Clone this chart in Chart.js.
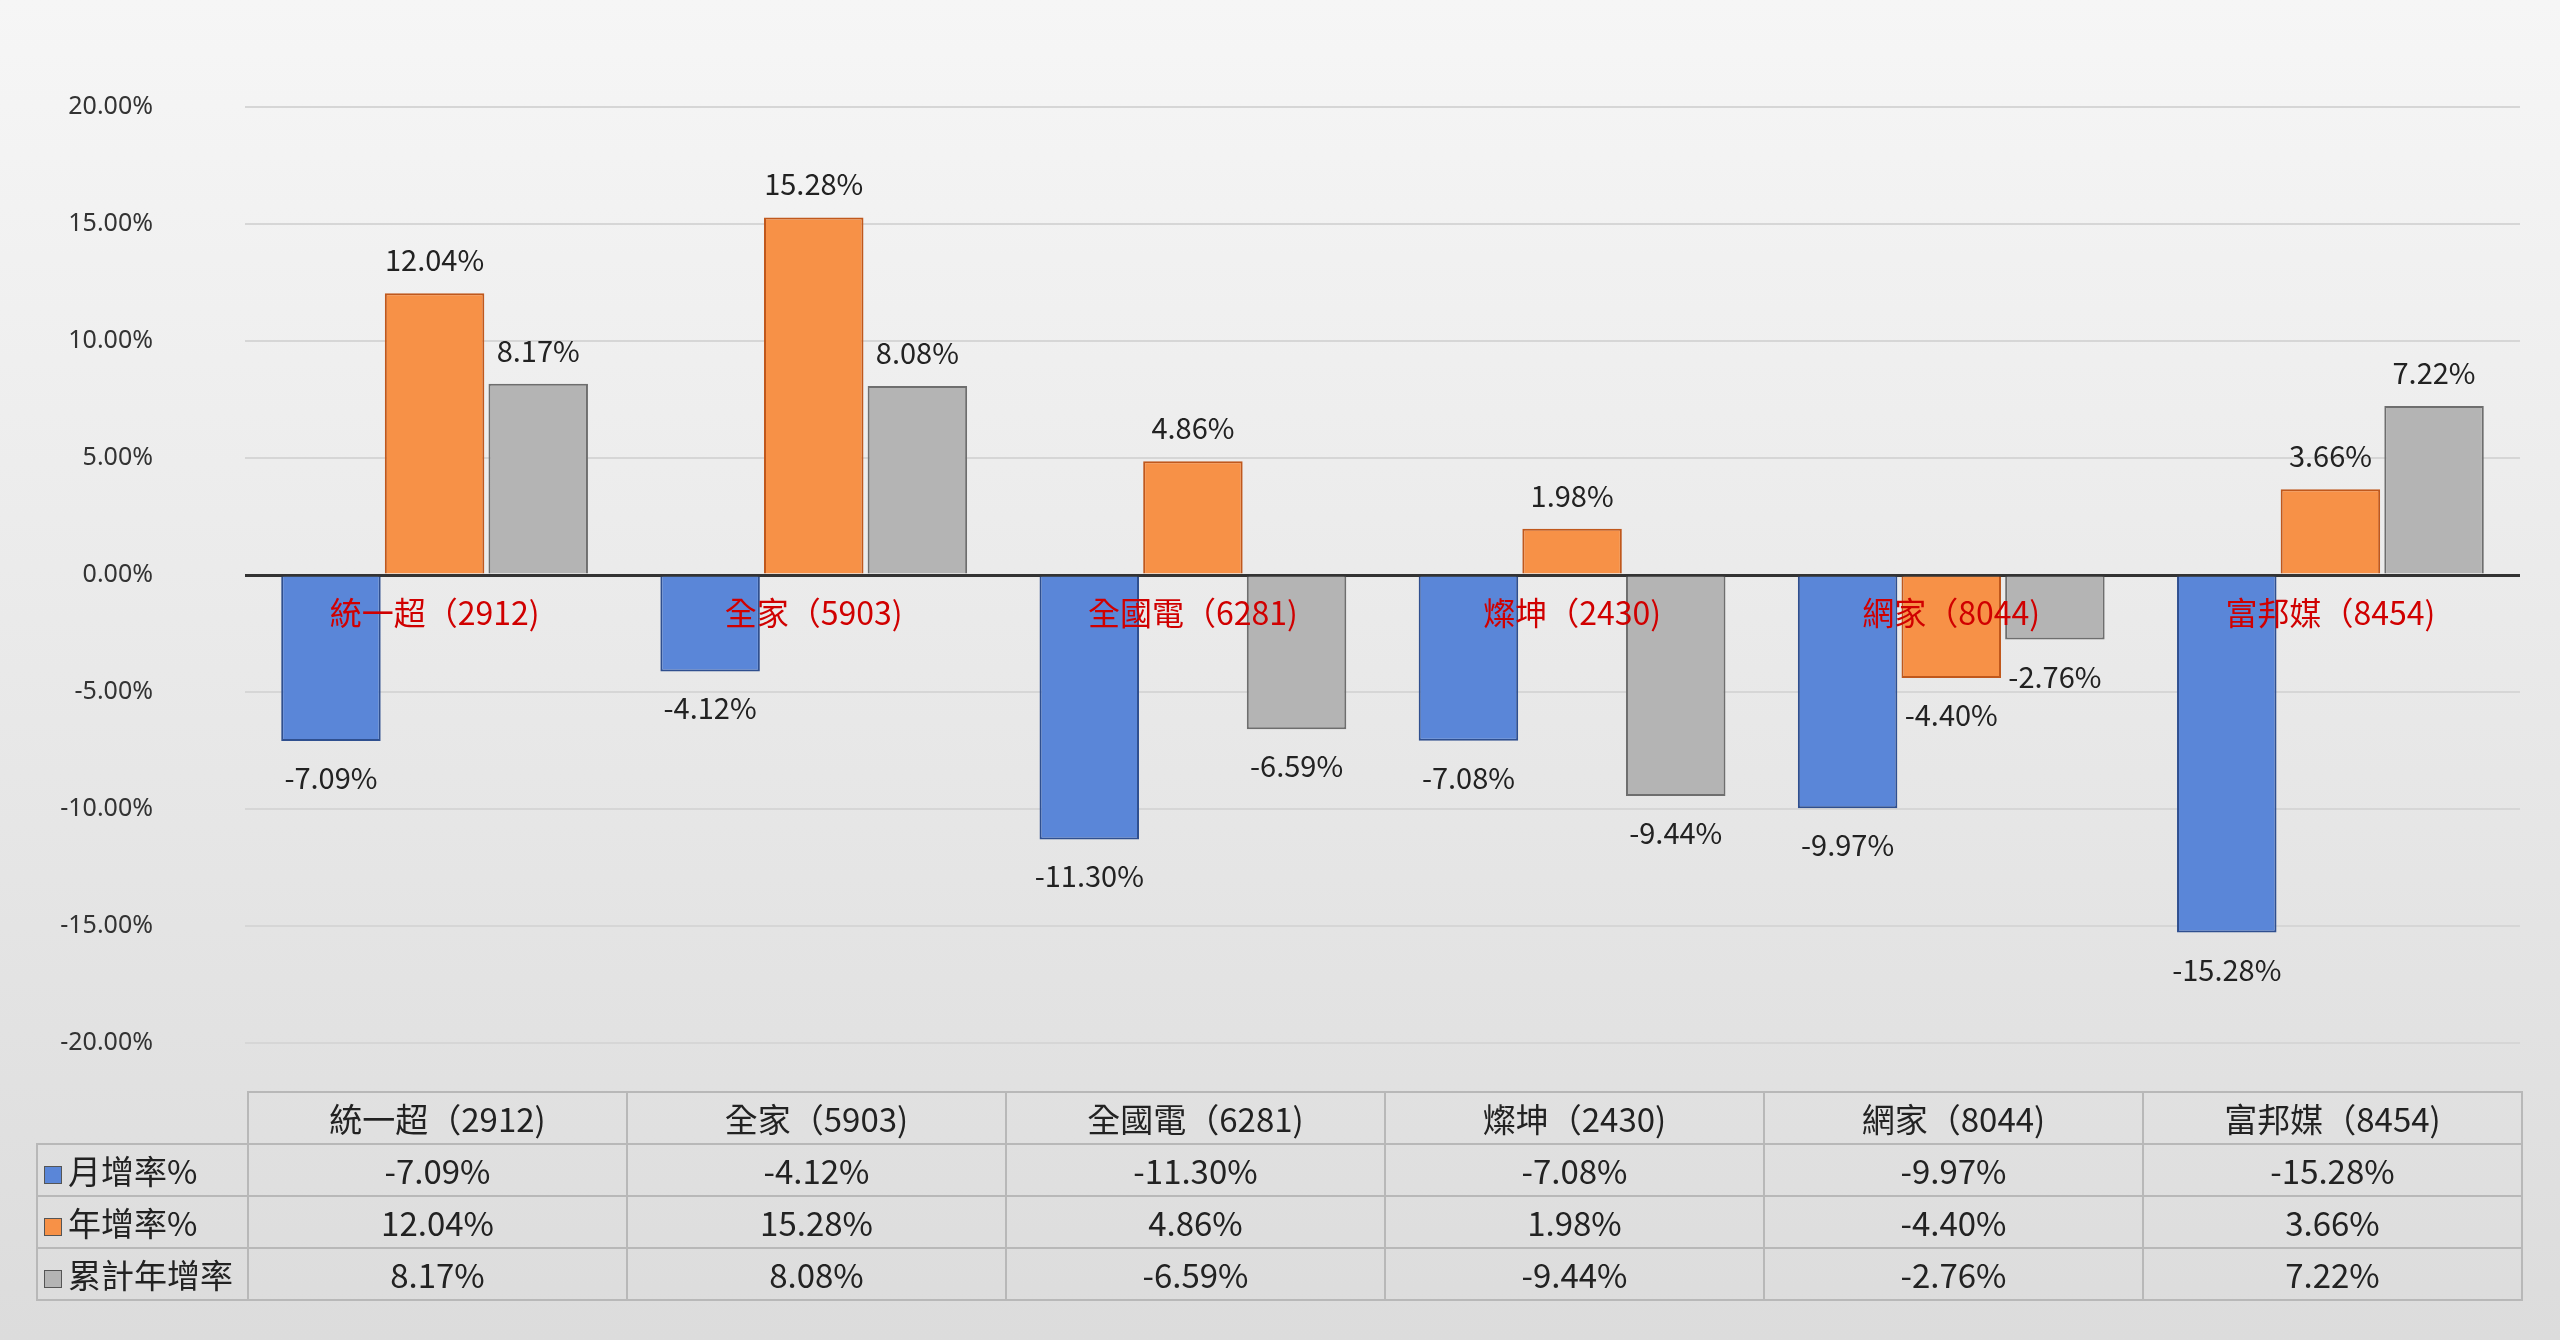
<!DOCTYPE html>
<html><head><meta charset="utf-8">
<script src="https://cdn.jsdelivr.net/npm/chart.js@4"></script>
<style>
html,body{margin:0;padding:0;width:2560px;height:1340px;overflow:hidden;background:linear-gradient(#f6f6f6,#dcdcdc);font-family:"Noto Sans CJK TC","Noto Sans",sans-serif;}
#wrap{position:absolute;left:0;top:0;width:2560px;height:1150px;}
#tbl{position:absolute;left:36px;top:1091px;border-collapse:collapse;font-size:33px;color:#222;}
#tbl td{border:2px solid #b8b8b8;height:50px;text-align:center;padding:0;}
#tbl td.h{text-align:left;padding-left:6px;width:203px;}
#tbl td.c{width:377px;}
.sq{display:inline-block;width:16px;height:16px;margin-right:6px;vertical-align:middle;border:1px solid #555;}
</style></head><body>
<div id="wrap"><canvas id="c"></canvas></div>
<table id="tbl"></table>
<script>
const categories=["統一超（2912)","全家（5903)","全國電（6281)","燦坤（2430)","網家（8044)","富邦媒（8454)"];
const tableCats=["統一超（2912)","全家（5903)","全國電（6281)","燦坤（2430)","網家（8044)","富邦媒（8454)"];
const seriesNames=["月增率%","年增率%","累計年增率"];
const monthly=[-7.09,-4.12,-11.30,-7.08,-9.97,-15.28];
const yearly=[12.04,15.28,4.86,1.98,-4.40,3.66];
const cumulative=[8.17,8.08,-6.59,-9.44,-2.76,7.22];
const colors=["#5a86d8","#f79147","#b4b4b4"];
const borders=["#2f4f8f","#c0581c","#6e6e6e"];
const allSeries=[monthly,yearly,cumulative];

const t=document.getElementById('tbl');
let h='<tr><td class="h" style="border:none"></td>'+tableCats.map(c=>'<td class="c">'+c+'</td>').join('')+'</tr>';
allSeries.forEach((s,i)=>{h+='<tr><td class="h"><span class="sq" style="background:'+colors[i]+'"></span>'+seriesNames[i]+'</td>'+s.map(v=>'<td>'+v.toFixed(2)+'%</td>').join('')+'</tr>';});
t.innerHTML=h;

const labelPlugin={id:'lbl',afterDatasetsDraw(ch){
  const ctx=ch.ctx;ctx.save();
  ctx.font='29px "Noto Sans CJK TC"';ctx.fillStyle='#222';ctx.textAlign='center';
  ch.data.datasets.forEach((d,i)=>{ch.getDatasetMeta(i).data.forEach((b,j)=>{
    const v=d.data[j];const y=v>=0?b.y-22:b.y+48;
    ctx.fillText(v.toFixed(2)+'%',b.x,y);});});
  const xs=ch.scales.x,ys=ch.scales.y;
  ctx.font='32px "Noto Sans CJK TC"';ctx.fillStyle='#d00000';
  categories.forEach((c,j)=>ctx.fillText(c,xs.getPixelForValue(j),ys.getPixelForValue(0)+50));
  ctx.restore();}};

new Chart(document.getElementById('c'),{type:'bar',
 data:{labels:categories,datasets:allSeries.map((s,i)=>({label:seriesNames[i],data:s,backgroundColor:colors[i],borderColor:borders[i],borderWidth:2}))},
 options:{responsive:true,maintainAspectRatio:false,animation:false,
  layout:{padding:{top:3,bottom:0,left:0,right:40}},
  plugins:{legend:{display:false},tooltip:{enabled:false}},
  datasets:{bar:{categoryPercentage:0.82,barPercentage:0.96}},
  scales:{
   x:{display:false},
   y:{min:-20,max:20,afterFit(s){s.width=245;},
      ticks:{stepSize:5,padding:92,color:'#333',font:{size:25,family:'Noto Sans'},callback:v=>v.toFixed(2)+'%'},
      border:{display:false},
      grid:{color:c=>c.tick.value===0?'#333':'#d6d6d6',lineWidth:c=>c.tick.value===0?3:2,drawTicks:false}}
  }},
 plugins:[labelPlugin]});
</script>
</body></html>
